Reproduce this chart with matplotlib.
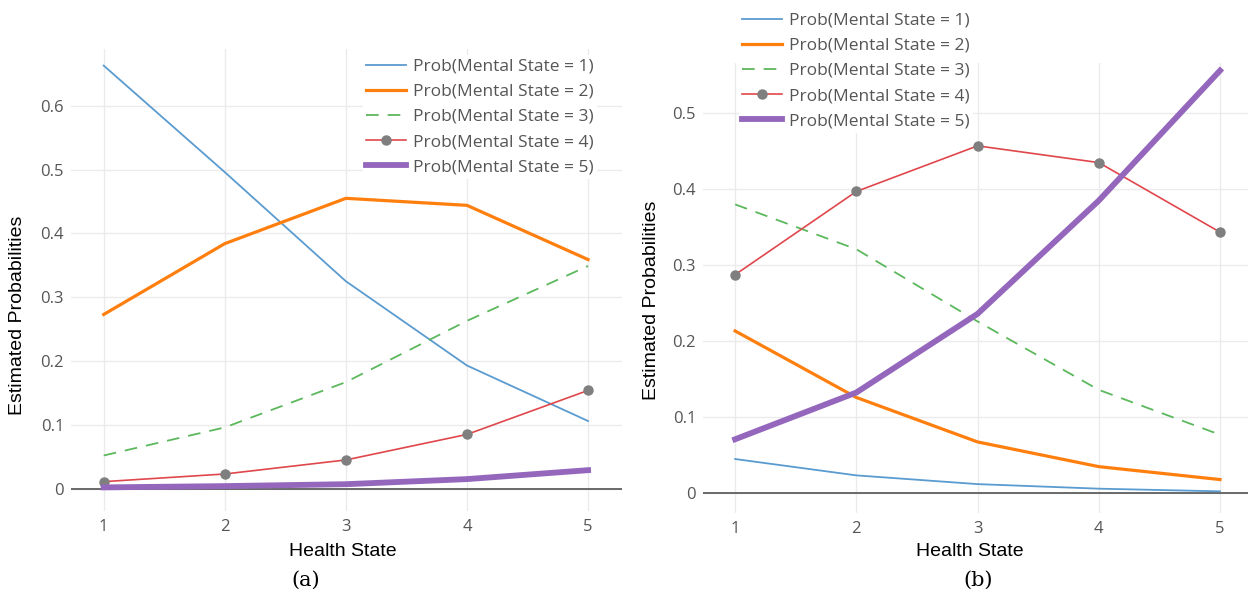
import matplotlib.pyplot as plt

# x values shared by both panels
health_state = [1, 2, 3, 4, 5]

# panel (a)
a_ms1 = [0.663, 0.496, 0.325, 0.193, 0.106]
a_ms2 = [0.273, 0.384, 0.455, 0.444, 0.359]
a_ms3 = [0.052, 0.096, 0.167, 0.263, 0.349]
a_ms4 = [0.011, 0.023, 0.045, 0.085, 0.154]
a_ms5 = [0.002, 0.004, 0.007, 0.015, 0.029]

# panel (b)
b_ms1 = [0.045, 0.0235, 0.012, 0.006, 0.0025]
b_ms2 = [0.2135, 0.126, 0.0675, 0.035, 0.018]
b_ms3 = [0.380, 0.321, 0.226, 0.136, 0.077]
b_ms4 = [0.2875, 0.397, 0.457, 0.435, 0.3435]
b_ms5 = [0.071, 0.1325, 0.236, 0.385, 0.556]

labels = [f"Prob(Mental State = {i})" for i in range(1, 6)]

W, H = 1248, 595


def px_axes(fig, x0, y0, x1, y1):
    return fig.add_axes([x0 / W, 1 - y1 / H, (x1 - x0) / W, (y1 - y0) / H])


def draw_panel(ax, series, ylim, xlim, yticks, leg_anchor):
    ax.plot(health_state, series[0], color="#5a9bd0", linewidth=1.3, label=labels[0])
    ax.plot(health_state, series[1], color="#ff7f0e", linewidth=2.3, label=labels[1])
    ax.plot(health_state, series[2], color="#5cb85c", linewidth=1.3,
            dashes=(7, 5), label=labels[2])
    ax.plot(health_state, series[3], color="#e0474c", linewidth=1.2, marker="o",
            markersize=6.5, markerfacecolor="#7f7f7f", markeredgecolor="#7f7f7f",
            label=labels[3])
    ax.plot(health_state, series[4], color="#9467bd", linewidth=4.2, label=labels[4])

    ax.axhline(0, color="#444444", linewidth=1.1, zorder=1.5)
    ax.set_xlim(*xlim)
    ax.set_ylim(*ylim)
    ax.set_xticks(health_state)
    ax.set_yticks(yticks)
    ax.set_yticklabels(["0" if t == 0 else f"{t:g}" for t in yticks])
    ax.grid(True, color="#ebebeb", linewidth=1)
    ax.set_axisbelow(True)
    for s in ax.spines.values():
        s.set_visible(False)
    ax.tick_params(length=0, labelsize=12, labelcolor="#555555", pad=5,
                   labelfontfamily="Open Sans")
    ax.tick_params(axis="x", pad=6)

    leg = ax.legend(loc="upper left", bbox_to_anchor=leg_anchor,
                    bbox_transform=ax.figure.transFigure,
                    frameon=True, fancybox=False, framealpha=1,
                    edgecolor="none", facecolor="white",
                    prop={"family": "Open Sans", "size": 12.5},
                    handlelength=2.3, handletextpad=0.4, labelspacing=0.52,
                    borderpad=0.2, borderaxespad=0)
    for t in leg.get_texts():
        t.set_color("#555555")


fig = plt.figure(figsize=(W / 100, H / 100), dpi=100)

ax_a = px_axes(fig, 71, 49, 622, 511)
draw_panel(ax_a, [a_ms1, a_ms2, a_ms3, a_ms4, a_ms5],
           ylim=(-0.035, 0.689), xlim=(0.73, 5.28),
           yticks=[0, 0.1, 0.2, 0.3, 0.4, 0.5, 0.6],
           leg_anchor=(363 / W, 1 - 55 / H))

ax_b = px_axes(fig, 703, 63, 1260, 513)
draw_panel(ax_b, [b_ms1, b_ms2, b_ms3, b_ms4, b_ms5],
           ylim=(-0.026, 0.566), xlim=(0.735, 5.33),
           yticks=[0, 0.1, 0.2, 0.3, 0.4, 0.5],
           leg_anchor=(739 / W, 1 - 9 / H))

# axis titles and panel tags
label_font = {"family": "Liberation Sans", "size": 14, "color": "black"}
fig.text(18 / W, 1 - 315 / H, "Estimated Probabilities", rotation=90,
         ha="center", va="center", **label_font)
fig.text(652 / W, 1 - 300 / H, "Estimated Probabilities", rotation=90,
         ha="center", va="center", **label_font)
fig.text(343 / W, 1 - 551 / H, "Health State", ha="center", va="center", **label_font)
fig.text(970 / W, 1 - 551 / H, "Health State", ha="center", va="center", **label_font)

tag_font = {"family": "DejaVu Serif", "size": 15, "color": "black"}
fig.text(306 / W, 1 - 580 / H, "(a)", ha="center", va="center", **tag_font)
fig.text(978 / W, 1 - 580 / H, "(b)", ha="center", va="center", **tag_font)

fig.savefig("out.png", dpi=100)
